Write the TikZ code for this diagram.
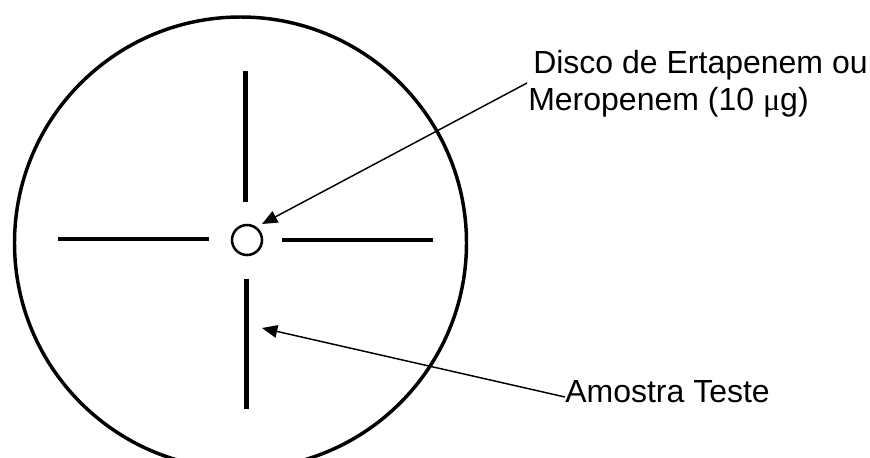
\documentclass[tikz,border=0pt]{standalone}
\usepackage{fontspec}
\setmainfont{Liberation Sans}
\newfontfamily\symfont{Liberation Serif}
\usetikzlibrary{arrows.meta}
\begin{document}
\begin{tikzpicture}[x=0.75pt,y=-0.75pt,
  plate/.style={line width=2.6pt},
  streak/.style={line width=3.6pt},
  pointer/.style={line width=1.1pt,-{Triangle[length=11.5pt,width=9.5pt]}},
  label/.style={anchor=base west,inner sep=0pt,font=\fontsize{24pt}{28pt}\selectfont}]
\useasboundingbox (0,0) rectangle (870,457);
\begin{scope}
\clip (0,0) rectangle (870,457);
\draw[plate] (240.5,243) circle[radius=226];
\end{scope}
% streaks
\draw[streak] (245.7,71) -- (245.7,202);
\draw[streak] (58,239) -- (209,239);
\draw[streak] (282,240) -- (433,240);
\draw[streak] (246.7,279) -- (246.7,409);
% disc
\node[draw,circle,line width=1.9pt,minimum size=30*0.75pt,inner sep=0pt] (disc) at (247,240) {};
% labels
\node[label] (disco1) at (533,73) {Disco de Ertapenem ou};
\node[label] (disco2) at (528,110) {Meropenem (10 {\symfont μ}g)};
\node[label] (amostra) at (565,402) {Amostra Teste};
\coordinate (discstart) at (527,83);
\coordinate (disctip) at (262,224);
\coordinate (amostart) at (565,397);
\coordinate (amotip) at (262,328);
\draw[pointer] (discstart) -- (disctip);
\draw[pointer] (amostart) -- (amotip);
\end{tikzpicture}
\end{document}
